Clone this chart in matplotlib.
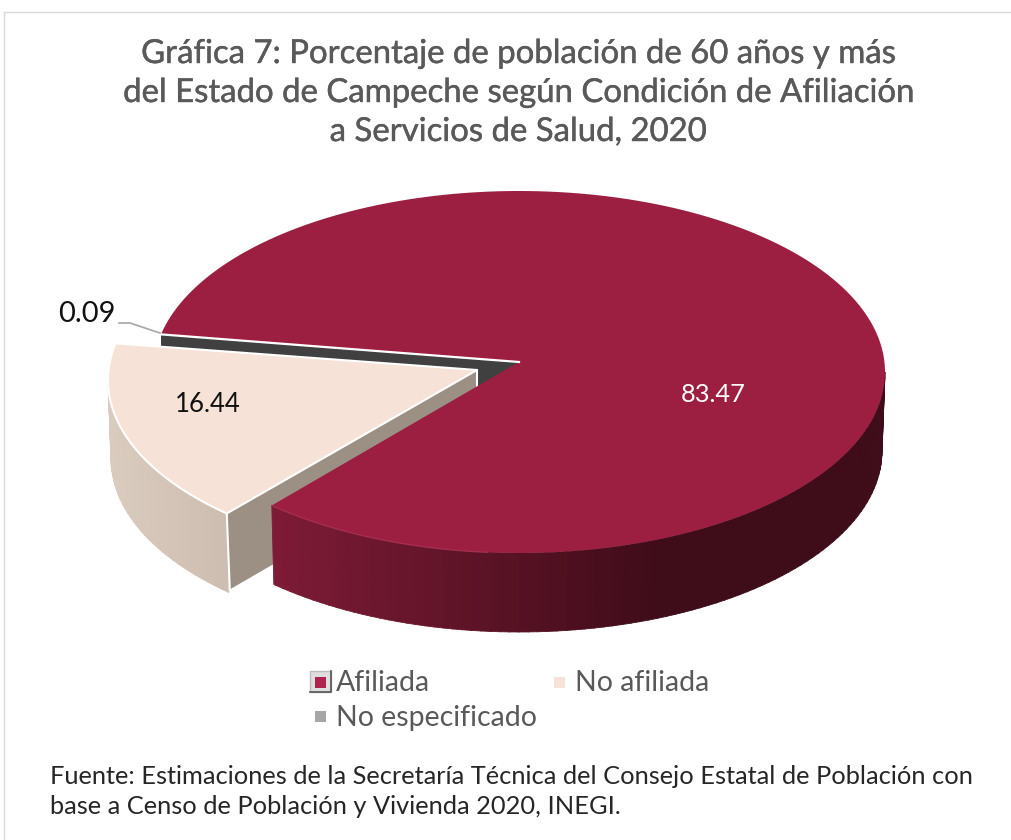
import numpy as np
import matplotlib
matplotlib.use("Agg")
from matplotlib import pyplot as plt
from matplotlib import patheffects
from matplotlib.colors import to_rgb
from matplotlib.patches import Polygon, Rectangle

plt.rcParams['font.family'] = ['Lato', 'DejaVu Sans']

# datos
categorias = ['Afiliada', 'No afiliada', 'No especificado']
valores = [83.47, 16.44, 0.09]
titulo = ['Gráfica 7: Porcentaje de población de 60 años y más',
          'del Estado de Campeche según Condición de Afiliación',
          'a Servicios de Salud, 2020']
fuente = ['Fuente: Estimaciones de la Secretaría Técnica del Consejo Estatal de Población con',
          'base a Censo de Población y Vivienda 2020, INEGI.']

# geometria del pastel, en pixeles de la figura
CX, CY = 519, 372      # centro de la elipse
RX, RY = 366, 181
APEX_Y = 362           # el vertice queda arriba por la perspectiva
ALTO = 79
RX_BASE = 363
INICIO = 192           # grados, crece en sentido horario
DX, DY = -45, 8        # separacion de "No afiliada"

fig = plt.figure(figsize=(10.11, 8.4), dpi=100)
ax = fig.add_axes([0, 0, 1, 1])
ax.set_xlim(0, 1011)
ax.set_ylim(840, 0)
ax.axis('off')


def arco(t0, t1, dx=0, dy=0, base=False):
    t = np.radians(np.linspace(t0, t1, max(int(abs(t1 - t0)) * 2, 2)))
    rx = RX_BASE if base else RX
    alto = ALTO if base else 0
    return np.column_stack([CX + dx + rx * np.cos(t),
                            CY + dy + alto + RY * np.sin(t)])


def pared(t0, t1, color_fn, dx=0, dy=0):
    # pared curva en tiras pequeñas para el degradado
    pasos = np.arange(t0, t1, 1.5)
    for a in pasos:
        b = min(a + 1.6, t1)
        arriba = arco(a, b, dx, dy)
        abajo = arco(a, b, dx, dy, base=True)
        color = color_fn(arriba[:, 0].mean())
        ax.add_patch(Polygon(np.vstack([arriba, abajo[::-1]]), closed=True,
                             facecolor=color, edgecolor=color, linewidth=0.6))


def mezcla(x, x0, x1, c0, c1):
    f = np.clip((x - x0) / (x1 - x0), 0, 1)
    return tuple((1 - f) * np.array(to_rgb(c0)) + f * np.array(to_rgb(c1)))


# angulos a partir de los valores
t_afil_fin = INICIO + valores[0] * 3.6
t_noaf_fin = t_afil_fin + valores[1] * 3.6
t_noaf_ini = t_afil_fin - 360
t_noaf_top = t_noaf_fin - 360

GUINDA = '#9C1F42'
CREMA = '#F6E2D6'
GRIS = '#404040'

# cara interna oscura de "No especificado"
p_sup = arco(INICIO, INICIO + 0.1)[0]
apex = np.array([CX, APEX_Y])
ax.add_patch(Polygon([apex, p_sup, p_sup + [0, ALTO], apex + [0, ALTO]],
                     closed=True, facecolor=GRIS, edgecolor='none'))

# rebanada separada "No afiliada"
apex_n = apex + [-42, DY]
p_a = arco(t_noaf_ini, t_noaf_ini + 0.1, DX, DY)[0]
ax.add_patch(Polygon([apex_n, p_a, p_a + [3, ALTO - 3], apex_n + [0, ALTO - 3]],
                     closed=True, facecolor='#9C9085', edgecolor='none'))
pared(t_noaf_ini, 182,
      lambda x: mezcla(x, 110, 228, '#DACBBF', '#CDBDB0'), DX, DY)
borde_n = arco(t_noaf_ini, t_noaf_top, DX, DY)
ax.add_patch(Polygon(np.vstack([apex_n, borde_n]), closed=True,
                     facecolor=CREMA, edgecolor='white', linewidth=1.5))
ax.plot([p_a[0], p_a[0] + 3], [p_a[1], p_a[1] + ALTO - 3], color='white', lw=1.5, zorder=1)
ax.plot([apex_n[0], apex_n[0]], [apex_n[1], apex_n[1] + 30], color='white', lw=1.5, zorder=1)

# rebanada "Afiliada"
pared(0, t_noaf_ini,
      lambda x: mezcla(x, 271, 660, '#7E1B36', '#3F0C19'))
borde_a = arco(INICIO, t_afil_fin)
ax.add_patch(Polygon(np.vstack([apex, borde_a]), closed=True,
                     facecolor=GUINDA, edgecolor='none'))
ax.plot(*arco(95, t_noaf_ini).T, color='#AE3356', lw=1, alpha=0.7)
ax.plot([p_sup[0], apex[0]], [p_sup[1], apex[1]], color='white', lw=1.6)

# marco
ax.plot([4, 4, 1011], [840, 12, 12], color='#D9D9D9', lw=1)

# titulo
for i, linea in enumerate(titulo):
    ax.text(518, 54 + i * 39, linea, ha='center', va='center',
            fontsize=23.7, color='#595959',
            path_effects=[patheffects.withStroke(linewidth=0.3, foreground='#595959')])

# etiquetas de datos
ax.text(713, 394, f'{valores[0]:.2f}', ha='center', va='center',
        fontsize=18.3, color='white')
ax.text(208, 404, f'{valores[1]:.2f}', ha='center', va='center',
        fontsize=18.5, color='#111111')
ax.text(87, 314, f'{valores[2]:.2f}', ha='center', va='center',
        fontsize=21, color='#111111')
ax.plot([119, 130, 160], [323, 323, 333], color='#A6A6A6', lw=1.2)

# leyenda
ax.add_patch(Rectangle((310, 671), 21, 21, facecolor='#DEDEDE',
                       edgecolor='#BDBDBD', linewidth=1))
ax.plot([331, 331, 310], [671, 692, 692], color='#555555', lw=1.2)
ax.add_patch(Rectangle((315, 677), 11, 11, facecolor='#B0234F', edgecolor='none'))
ax.add_patch(Rectangle((554, 677), 11, 11, facecolor=CREMA, edgecolor='none'))
ax.add_patch(Rectangle((315, 711), 11, 11, facecolor='#A6A6A6', edgecolor='none'))
ax.text(336, 683, categorias[0], va='center', fontsize=20.5, color='#595959')
ax.text(575, 683, categorias[1], va='center', fontsize=20.5, color='#595959')
ax.text(336, 718, categorias[2], va='center', fontsize=20.5, color='#595959')

# fuente
for i, linea in enumerate(fuente):
    ax.text(50, 776 + i * 31, linea, va='center', fontsize=18.3, color='#262626')

fig.savefig('out.png', dpi=100, facecolor='white')
